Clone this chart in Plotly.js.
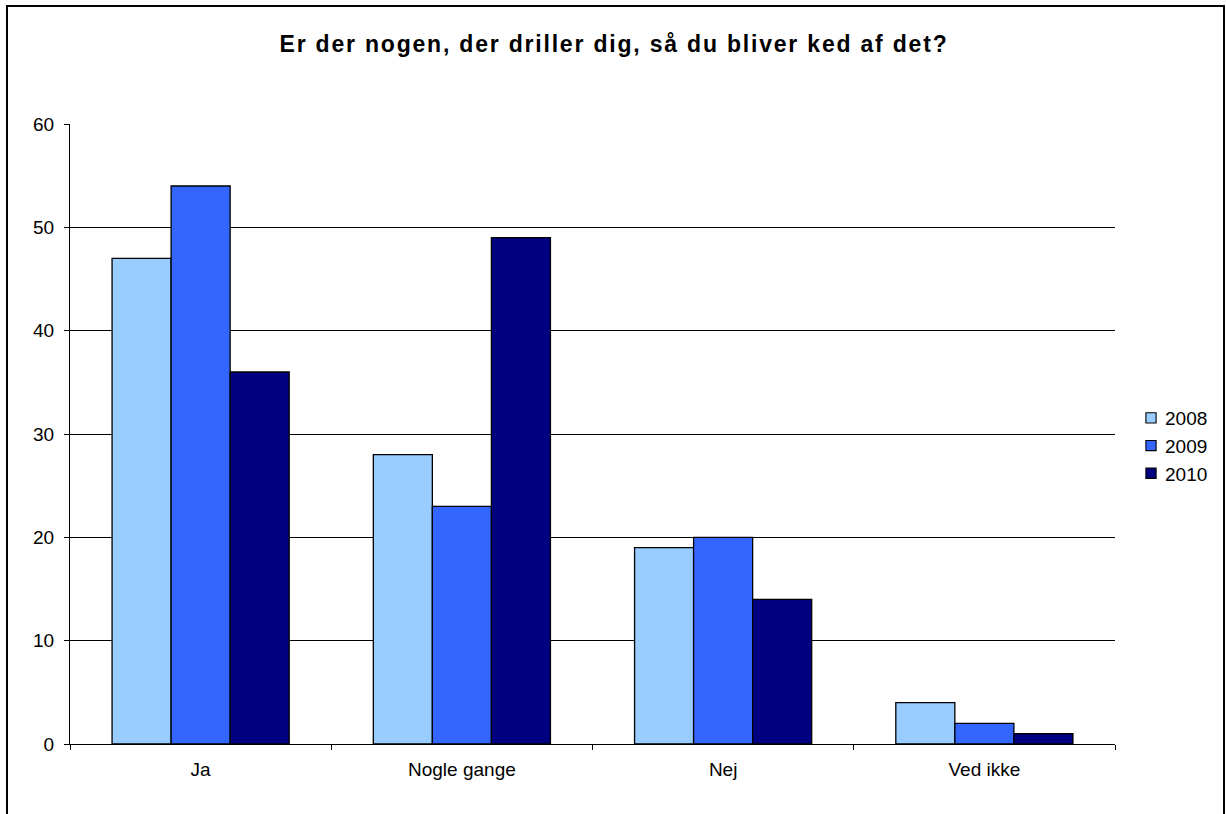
<!DOCTYPE html>
<html>
<head>
<meta charset="utf-8">
<script src="https://cdn.plot.ly/plotly-3.0.1.min.js"></script>
<style>
html,body{margin:0;padding:0;background:#fff;}
.gtitle{letter-spacing:1.8px;}
</style>
</head>
<body>
<div id="chart" style="width:1226px;height:814px;"></div>
<script>
const categories = ["Ja", "Nogle gange", "Nej", "Ved ikke"];
const seriesNames = ["2008", "2009", "2010"];
const values2008 = [47, 28, 19, 4];
const values2009 = [54, 23, 20, 2];
const values2010 = [36, 49, 14, 1];
const colors = ["#99CCFF", "#3366FF", "#000080"];
const yTicks = [0, 10, 20, 30, 40, 50, 60];

const allValues = [values2008, values2009, values2010];
const data = allValues.map((v, i) => ({
  type: "bar",
  name: seriesNames[i],
  x: categories,
  y: v,
  marker: {color: colors[i], line: {color: "#000000", width: 1.3}}
}));

const font = "'Liberation Sans', Arial, sans-serif";
const layout = {
  width: 1226, height: 814,
  margin: {l: 70, r: 111, t: 124, b: 70, pad: 0, autoexpand: false},
  paper_bgcolor: "#ffffff", plot_bgcolor: "#ffffff",
  font: {family: font, size: 19, color: "#000"},
  title: {text: "<b>Er der nogen, der driller dig, så du bliver ked af det?</b>",
          font: {family: font, size: 23, color: "#000"},
          x: 614/1226, xref: "container", xanchor: "center", y: 1 - 44/814, yanchor: "middle"},
  barmode: "group", bargap: 0.322, bargroupgap: 0,
  xaxis: {type: "category", showline: true, linecolor: "#000", linewidth: 1,
          ticks: "outside", tickson: "boundaries", ticklen: 5, tickcolor: "#000",
          showgrid: false, tickfont: {size: 19}, zeroline: false, ticklabelstandoff: 8},
  yaxis: {range: [0, 60], tickvals: yTicks, showline: true, linecolor: "#000", linewidth: 1,
          ticks: "outside", ticklen: 5, tickcolor: "#000", showgrid: true, gridcolor: "#000",
          gridwidth: 1, zeroline: false, tickfont: {size: 19}, ticklabelstandoff: 6},
  legend: {x: (1125 - 70) / 1045, xanchor: "left", y: (744 - 446) / 620, yanchor: "middle",
           font: {size: 19}, bgcolor: "rgba(0,0,0,0)", itemwidth: 30, tracegroupgap: 0},
  shapes: [{type: "rect", xref: "paper", yref: "paper",
            x0: (7 - 70) / 1045, x1: (1224 - 70) / 1045,
            y0: -0.2, y1: (744 - 6) / 620,
            line: {color: "#000", width: 2}, fillcolor: "rgba(0,0,0,0)", layer: "below"}]
};
Plotly.newPlot("chart", data, layout, {displayModeBar: false, staticPlot: true}).then(gd => {
  gd.querySelectorAll(".legend .legendpoints path").forEach(p => {
    const t = p.getAttribute("transform") || "";
    p.setAttribute("transform", t + " translate(6,0) scale(0.85)");
  });
});
</script>
</body>
</html>
